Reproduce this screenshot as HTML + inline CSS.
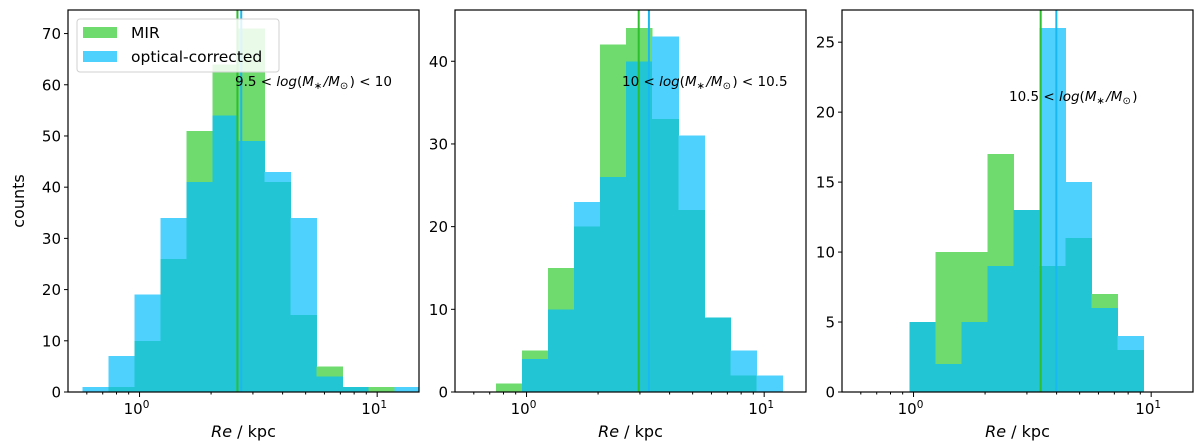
<!DOCTYPE html>
<html><head><meta charset="utf-8">
<style>
html,body{margin:0;padding:0;background:#fff;}
svg{display:block;font-family:"DejaVu Sans","Liberation Sans",sans-serif;}
</style></head>
<body>
<svg id="chart" width="1200" height="448" viewBox="0 0 1200 448" xmlns="http://www.w3.org/2000/svg"></svg>
<script>
// ---- data ----
const panelLow = ["9.5 < ", "10 < ", "10.5 < "];
const panelHigh = [" < 10", " < 10.5", ""];
const binStartLog = [-0.241, -0.128, -0.018];
const binWidthLog = [0.1095, 0.1095, 0.1095];
const mirCounts1 = [0, 1, 10, 26, 51, 64, 71, 41, 15, 5, 1, 1, 0];
const optCounts1 = [1, 7, 19, 34, 41, 54, 49, 43, 34, 3, 1, 0, 1];
const mirCounts2 = [1, 5, 15, 20, 42, 44, 33, 22, 9, 2, 0];
const optCounts2 = [0, 4, 10, 23, 26, 40, 43, 31, 9, 5, 2];
const mirCounts3 = [5, 10, 10, 17, 13, 9, 11, 7, 3];
const optCounts3 = [5, 2, 5, 9, 13, 26, 15, 6, 4];
const mirMedianLog = [0.412, 0.472, 0.535];
const optMedianLog = [0.428, 0.515, 0.601];
const yMax = [74.6, 46.2, 27.3];
const yTicks1 = [0, 10, 20, 30, 40, 50, 60, 70];
const yTicks2 = [0, 10, 20, 30, 40];
const yTicks3 = [0, 5, 10, 15, 20, 25];
const xLimLog = [-0.301, 1.176];

const mirSets = [mirCounts1, mirCounts2, mirCounts3];
const optSets = [optCounts1, optCounts2, optCounts3];
const yTickSets = [yTicks1, yTicks2, yTicks3];
const panelLeft = [68, 455, 842];
const panelW = 351, topY = 10, bottomY = 392;
const textPos = [[235, 86], [622, 86], [1009, 101]];

const NS = "http://www.w3.org/2000/svg";
const svg = document.getElementById('chart');
function mk(tag, attrs, parent) {
  const e = document.createElementNS(NS, tag);
  for (const k in attrs) e.setAttribute(k, attrs[k]);
  (parent || svg).appendChild(e);
  return e;
}

for (let p = 0; p < 3; p++) {
  const L = panelLeft[p];
  const g = mk('g', {});
  
  
  const clipId = 'clip' + p;
  const cp = mk('clipPath', {id: clipId}, g);
  mk('rect', {x: L, y: topY, width: panelW, height: bottomY - topY}, cp);
  const xs = v => L + (v - xLimLog[0]) / (xLimLog[1] - xLimLog[0]) * panelW;
  const ys = c => bottomY - c / yMax[p] * (bottomY - topY);
  const bars = mk('g', {'clip-path': 'url(#' + clipId + ')', 'shape-rendering': 'crispEdges'}, g);
  const mir = mirSets[p], opt = optSets[p];
  for (let i = 0; i < mir.length; i++) {
    const x0 = xs(binStartLog[p] + i * binWidthLog[p]);
    const x1 = xs(binStartLog[p] + (i + 1) * binWidthLog[p]);
    const lo = Math.min(mir[i], opt[i]), hi = Math.max(mir[i], opt[i]);
    if (hi > lo) {
      const r = mk('rect', {x: x0, y: ys(hi), width: x1 - x0 + 0.5, height: ys(lo) - ys(hi) + 0.5,
        fill: mir[i] > opt[i] ? '#6fdb6f' : '#4fd1fd'}, bars);
      
      
    }
    if (lo > 0) {
      const r = mk('rect', {x: x0, y: ys(lo), width: x1 - x0 + 0.5, height: bottomY - ys(lo), fill: '#22c5d3'}, bars);
      
      
    }
  }
  const lm = mk('line', {x1: xs(mirMedianLog[p]), x2: xs(mirMedianLog[p]), y1: topY, y2: bottomY, stroke: '#2dbf2d', 'stroke-width': 2}, g);
  
  
  const lo2 = mk('line', {x1: xs(optMedianLog[p]), x2: xs(optMedianLog[p]), y1: topY, y2: bottomY, stroke: '#1ab8f0', 'stroke-width': 2}, g);
  
  
  const fr = mk('rect', {x: L, y: topY, width: panelW, height: bottomY - topY, fill: 'none', stroke: '#000', 'stroke-width': 1.2}, g);
  
  
  yTickSets[p].forEach(t => {
    const y = ys(t);
    mk('line', {x1: L - 4, x2: L, y1: y, y2: y, stroke: '#000', 'stroke-width': 1}, g);
    const tx = mk('text', {x: L - 7, y: y + 5.5, 'text-anchor': 'end', 'font-size': 15}, g);
    tx.textContent = t;
    
    
  });
  for (let d = -1; d <= 1; d++) {
    for (let m = 1; m <= 9; m++) {
      const v = d + Math.log10(m);
      if (v < xLimLog[0] || v > xLimLog[1]) continue;
      const x = xs(v);
      mk('line', {x1: x, x2: x, y1: bottomY, y2: bottomY + (m === 1 ? 5 : 2.5), stroke: '#000', 'stroke-width': 1}, g);
      if (m === 1) {
        const tx = mk('text', {x: x - 3, y: bottomY + 22, 'text-anchor': 'middle', 'font-size': 15}, g);
        tx.textContent = '10';
        const sp = mk('tspan', {dy: -6, 'font-size': 10.5}, tx);
        sp.textContent = d;
        
        
      }
    }
  }
  const xl = mk('text', {x: L + panelW / 2, y: 437, 'text-anchor': 'middle', 'font-size': 16}, g);
  const it = mk('tspan', {'font-style': 'italic'}, xl); it.textContent = 'Re';
  const rest = mk('tspan', {}, xl); rest.textContent = ' / kpc';
  
  
  // annotation with mathtext-like italics
  const an = mk('text', {x: textPos[p][0], y: textPos[p][1], 'font-size': 13.5}, g);
  
  
  const parts = [[panelLow[p], ''], ['log', 'italic'], ['(', ''], ['M', 'italic'], ['∗', 'sub'], ['/', 'italic'], ['M', 'italic'], ['⊙', 'sub'], [')', ''], [panelHigh[p], '']];
  parts.forEach(([s, st]) => {
    const t = mk('tspan', {}, an);
    if (st === 'italic') t.setAttribute('font-style', 'italic');
    if (st === 'sub') { t.setAttribute('font-size', 10); t.setAttribute('dy', 3); }
    t.textContent = s;
    if (st === 'sub') { const b = mk('tspan', {dy: -3}, an); b.textContent = '\u200a'; }
  });
}

const yt = mk('text', {x: 0, y: 0, 'font-size': 16, 'text-anchor': 'middle', transform: 'translate(24,201) rotate(-90)'});
yt.textContent = 'counts';



const lg = mk('g', {});


mk('rect', {x: 77, y: 19, width: 202, height: 53, rx: 3, fill: 'rgba(255,255,255,0.85)', stroke: '#d0d0d0', 'stroke-width': 1}, lg);
const legItems = [['MIR', '#6fdb6f', 27], ['optical-corrected', '#4fd1fd', 51]];
legItems.forEach(([label, col, y]) => {
  const e = mk('g', {}, lg);
  
  
  mk('rect', {x: 83, y: y, width: 34, height: 11, fill: col}, e);
  const t = mk('text', {x: 131, y: y + 11, 'font-size': 15.5}, e);
  t.textContent = label;
});
</script>
</body></html>
